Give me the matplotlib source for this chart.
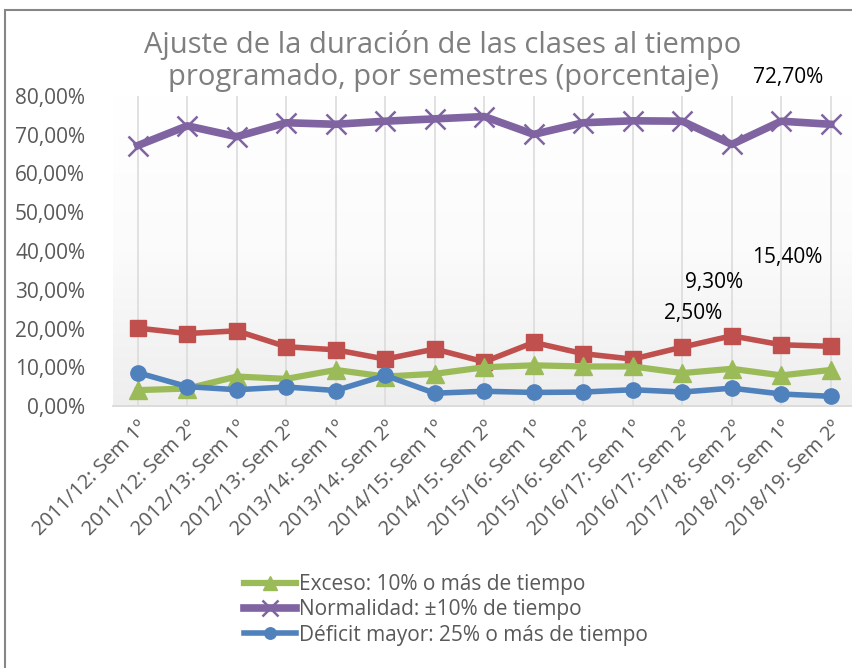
import numpy as np
import matplotlib
matplotlib.use("Agg")
import matplotlib.pyplot as plt
from matplotlib.patches import Rectangle
from matplotlib.colors import LinearSegmentedColormap

categories = ["2011/12: Sem 1º", "2011/12: Sem 2º", "2012/13: Sem 1º", "2012/13: Sem 2º",
              "2013/14: Sem 1º", "2013/14: Sem 2º", "2014/15: Sem 1º", "2014/15: Sem 2º",
              "2015/16: Sem 1º", "2015/16: Sem 2º", "2016/17: Sem 1º", "2016/17: Sem 2º",
              "2017/18: Sem 2º", "2018/19: Sem 1º", "2018/19: Sem 2º"]

normalidad = [67.2, 72.3, 69.5, 73.1, 72.7, 73.5, 74.1, 74.7, 70.1, 73.1, 73.6, 73.5, 67.5, 73.5, 72.7]
deficit_leve = [20.1, 18.7, 19.4, 15.3, 14.5, 12.1, 14.7, 11.4, 16.4, 13.5, 12.1, 15.2, 18.1, 15.8, 15.4]
exceso = [4.1, 4.5, 7.6, 7.0, 9.3, 7.6, 8.3, 10.0, 10.5, 10.2, 10.2, 8.5, 9.6, 7.9, 9.3]
deficit_mayor = [8.6, 5.0, 4.2, 4.9, 4.0, 7.9, 3.3, 3.8, 3.5, 3.6, 4.2, 3.6, 4.6, 3.1, 2.5]

name_exceso = "Exceso: 10% o más de tiempo"
name_normal = "Normalidad: ±10% de tiempo"
name_deficit = "Déficit mayor: 25% o más de tiempo"

yticks = [0, 10, 20, 30, 40, 50, 60, 70, 80]
title = "Ajuste de la duración de las clases al tiempo\nprogramado, por semestres (porcentaje)"

plt.rcParams['font.family'] = ['Open Sans', 'DejaVu Sans']

W, H = 852, 668
fig = plt.figure(figsize=(W / 100, H / 100), dpi=100)
fig.patches.append(Rectangle((5 / W, -0.01), 1.1, 1 - 10 / H + 0.01, transform=fig.transFigure,
                             fill=False, edgecolor="#868686", linewidth=1.5))

ax = fig.add_axes([113 / W, 262 / H, (W - 113) / W, (406 - 96) / H])
x = np.arange(len(categories))

# gradient background (white at top, light grey at bottom)
grad = np.linspace(0, 1, 256).reshape(-1, 1)
cmap = LinearSegmentedColormap.from_list("g", ["#ffffff", "#fbfbfb", "#eeeeee"])
ax.imshow(grad, cmap=cmap, extent=[0, 1, 0, 1], transform=ax.transAxes, aspect="auto", zorder=0)

for xi in x:
    ax.axvline(xi, color="#dcdcdc", linewidth=1.2, zorder=1)

ax.plot(x, deficit_leve, color="#C0504D", linewidth=4, marker="s", markersize=11, zorder=3,
        label="_nolegend_")
ax.plot(x, exceso, color="#9BBB59", linewidth=4.5, marker="^", markersize=13, zorder=4,
        label=name_exceso)
ax.plot(x, deficit_mayor, color="#4F81BD", linewidth=4, marker="o", markersize=11, zorder=5,
        label=name_deficit)
ax.plot(x, normalidad, color="#8064A2", linewidth=5.5, marker="x", markersize=15,
        markeredgewidth=1.8, zorder=6, label=name_normal)

ax.set_xlim(-0.5, -0.5 + (W - 113) / 49.5)
ax.set_ylim(0, 80)
ax.set_yticks(yticks)
ax.set_yticklabels([f"{v:.2f}".replace(".", ",") + "%" for v in yticks], fontsize=15, color="#595959")
ax.set_xticks(x)
ax.set_xticklabels(categories, rotation=45, ha="right", va="top", rotation_mode="anchor",
                   fontsize=14.5, color="#595959")
ax.tick_params(axis="both", length=0)
ax.tick_params(axis="y", pad=20)
ax.tick_params(axis="x", pad=8)
for s in ["top", "right", "left"]:
    ax.spines[s].set_visible(False)
ax.spines["bottom"].set_color("#d9d9d9")
ax.spines["bottom"].set_linewidth(1.3)

last = len(categories) - 1
labels = [(normalidad[last], -43, 47), (deficit_leve[last], -43, 89),
          (exceso[last], -117, 87), (deficit_mayor[last], -138, 83)]
for val, dx, dy in labels:
    ax.annotate(f"{val:.2f}".replace(".", ",") + "%", xy=(last, val), xytext=(dx, dy),
                textcoords="offset pixels", ha="center", va="center", fontsize=15,
                color="black", annotation_clip=False, zorder=10)

fig.text(443 / W, 1 - 61 / H, title, ha="center", va="center", fontsize=21, color="#7f7f7f",
         linespacing=1.1)

handles, labs = ax.get_legend_handles_labels()
order = [labs.index(name_exceso), labs.index(name_normal), labs.index(name_deficit)]
fig.legend([handles[i] for i in order], [labs[i] for i in order],
           loc="center left", bbox_to_anchor=(244 / W, 1 - 610 / H), frameon=False,
           fontsize=15, labelcolor="#595959", handlelength=2.5, handletextpad=0.15,
           labelspacing=0.2, borderaxespad=0, borderpad=0, markerscale=0.75)

fig.savefig("out.png", dpi=100)
